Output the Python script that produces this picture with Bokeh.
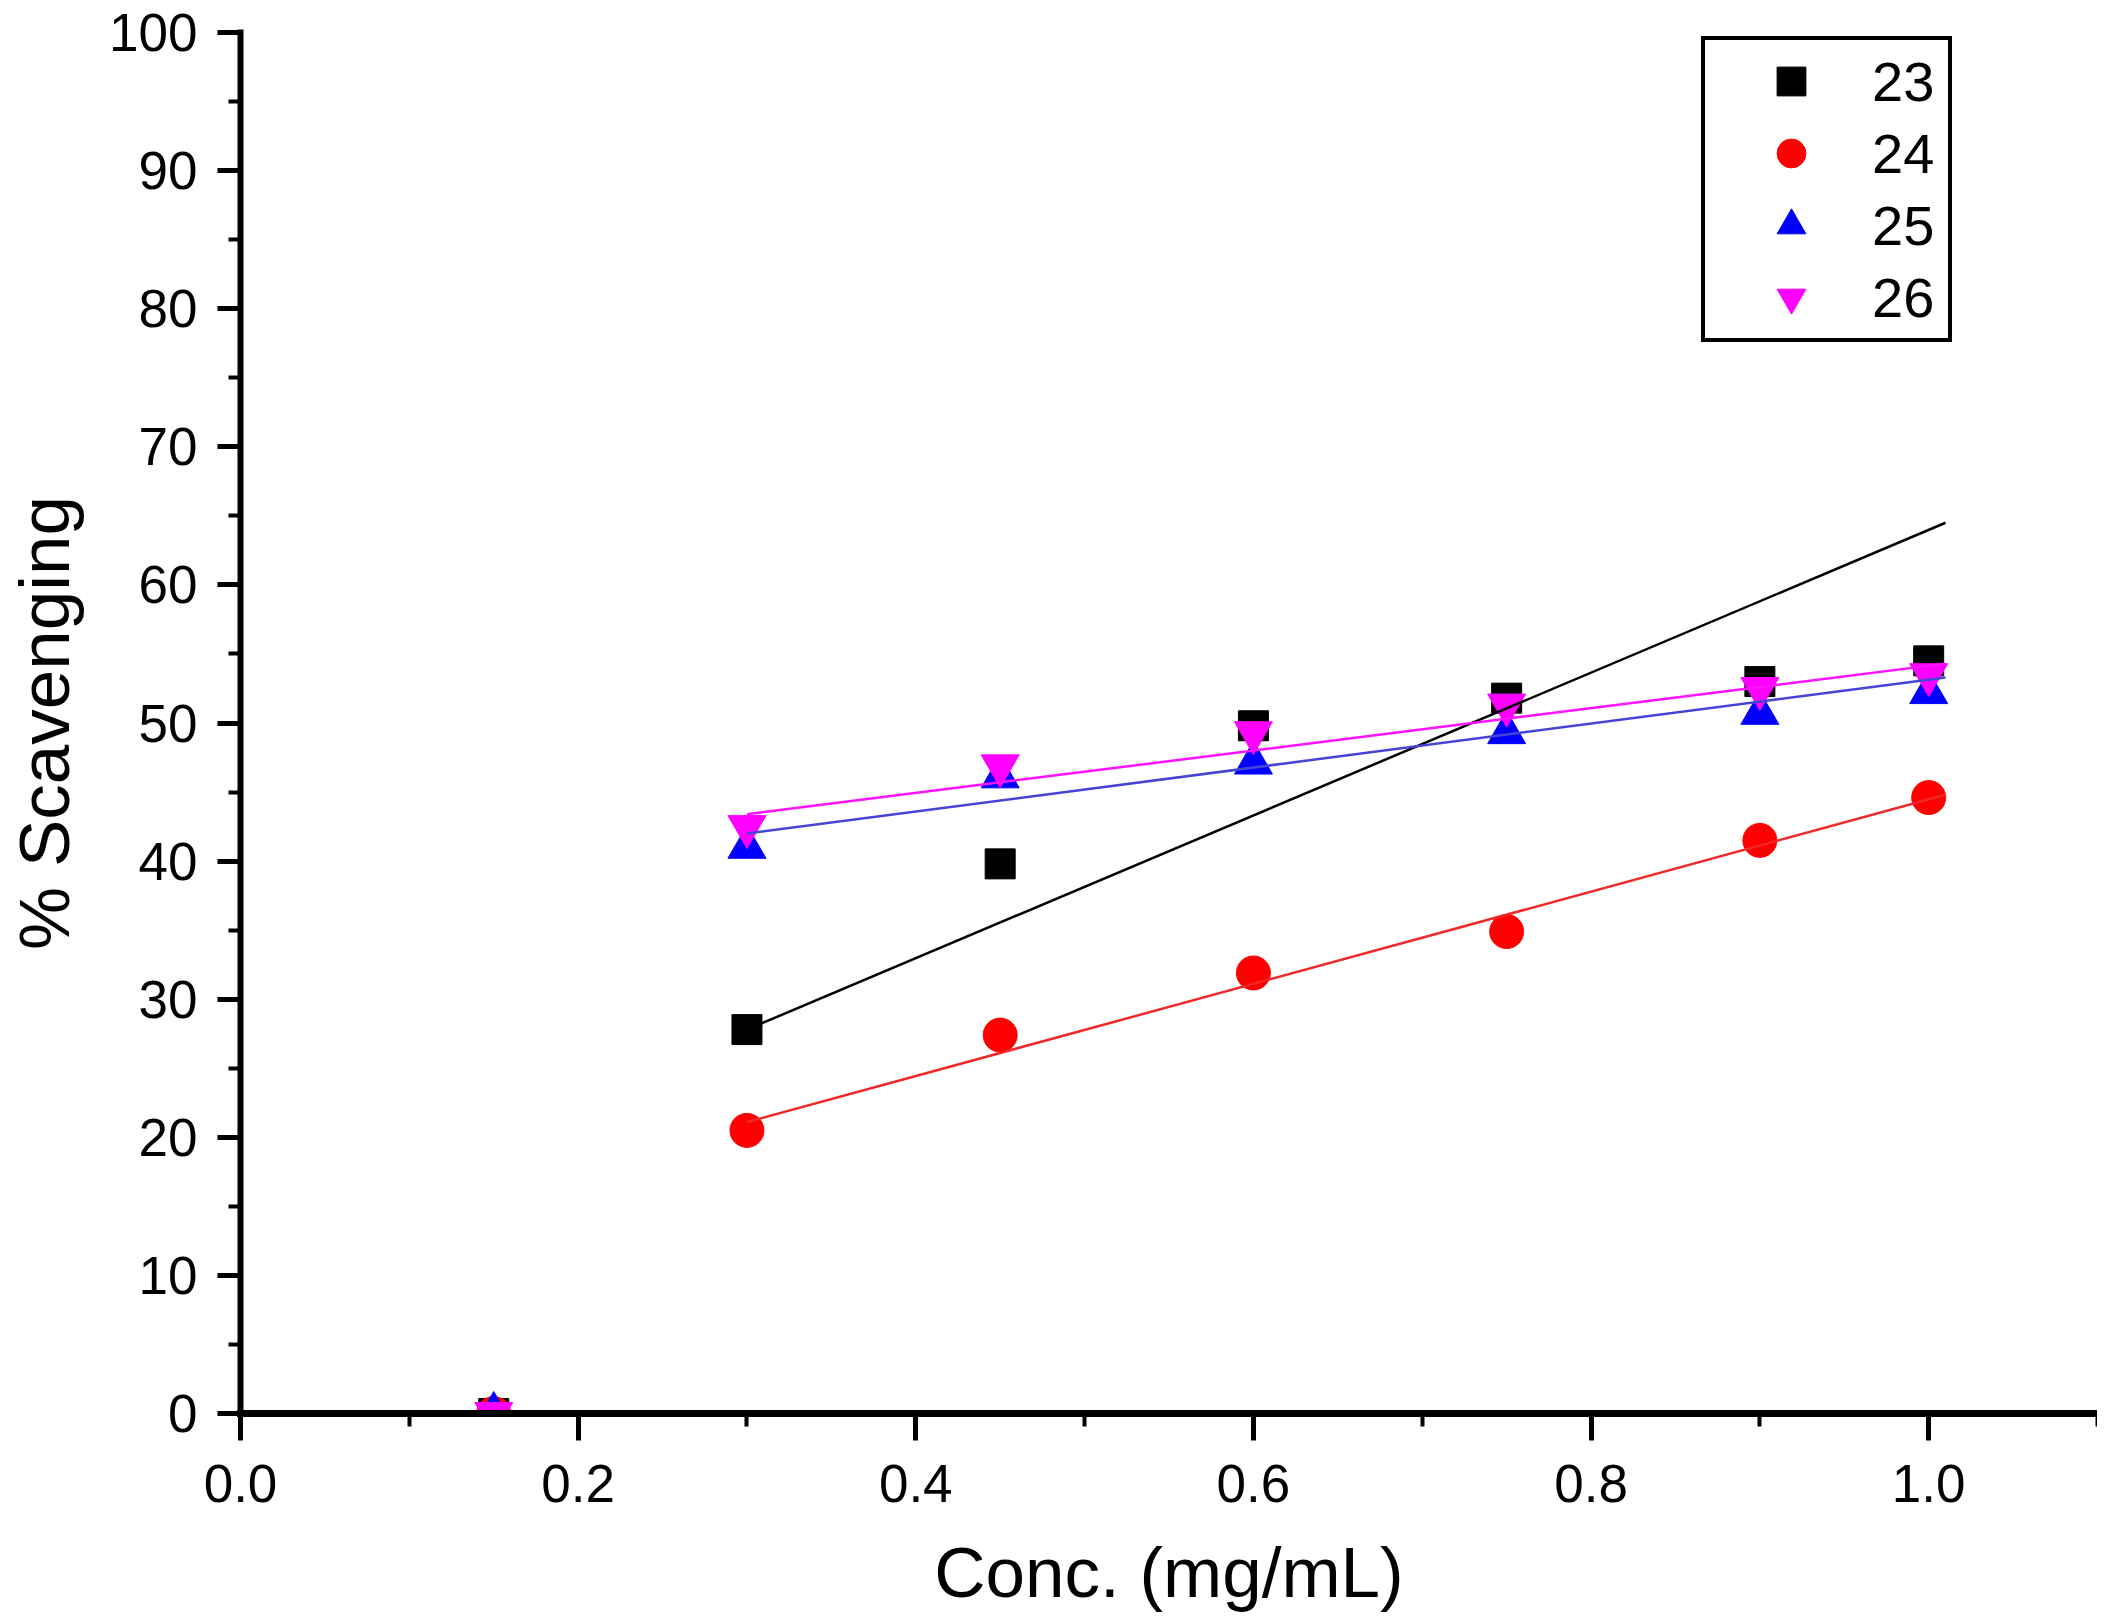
from bokeh.embed import file_html
from bokeh.models import FixedTicker, NumeralTickFormatter, Range1d
from bokeh.plotting import figure
from bokeh.resources import INLINE

# data
conc = [0.15, 0.30, 0.45, 0.60, 0.75, 0.90, 1.00]
s23 = [0.0, 27.8, 39.8, 49.8, 51.8, 53.0, 54.5]
s24 = [0.0, 20.5, 27.4, 31.9, 34.9, 41.5, 44.6]
s25 = [0.0, 41.0, 46.1, 47.1, 49.3, 50.7, 52.2]
s26 = [0.0, 42.5, 46.9, 49.3, 51.3, 52.5, 53.5]

# linear fits (end points of the drawn fit lines)
fit_x = [0.30, 1.01]
fit23 = [27.8, 64.5]
fit24 = [21.1, 44.8]
fit25 = [42.0, 53.3]
fit26 = [43.4, 54.3]

x_major = [0.0, 0.2, 0.4, 0.6, 0.8, 1.0]
x_minor = [0.1, 0.3, 0.5, 0.7, 0.9, 1.1]
y_major = [0, 10, 20, 30, 40, 50, 60, 70, 80, 90, 100]
y_minor = [5, 15, 25, 35, 45, 55, 65, 75, 85, 95]

FONT = "Liberation Sans"

p = figure(width=2097, height=1619, output_backend="svg", toolbar_location=None,
           x_range=Range1d(0, 1.1), y_range=Range1d(0, 100),
           min_border_left=240, min_border_right=0,
           min_border_top=32, min_border_bottom=206)
p.outline_line_color = None
p.grid.visible = False
p.background_fill_color = "white"
p.border_fill_color = "white"

# markers
p.scatter(conc, s23, marker="square", size=30, color="black", legend_label="23")
p.scatter(conc, s24, marker="circle", size=34, color="red", legend_label="24")
p.scatter(conc, s25, marker="triangle", size=38, color="blue", legend_label="25")
p.scatter(conc, s26, marker="inverted_triangle", size=38, color="magenta", legend_label="26")

# fit lines
p.line(fit_x, fit23, color="black", line_width=2.5)
p.line(fit_x, fit24, color="#f02828", line_width=2.5)
p.line(fit_x, fit25, color="#4545d5", line_width=2.5)
p.line(fit_x, fit26, color="#ff10ff", line_width=2.5)

# x axis
xa = p.xaxis[0]
xa.ticker = FixedTicker(ticks=x_major, minor_ticks=x_minor)
xa.formatter = NumeralTickFormatter(format="0.0")
xa.axis_line_width = 7
xa.axis_line_cap = "square"
xa.major_tick_line_width = 5
xa.minor_tick_line_width = 4
xa.major_tick_out = 27
xa.major_tick_in = 0
xa.minor_tick_out = 13
xa.minor_tick_in = 0
xa.major_label_text_font = FONT
xa.major_label_text_font_size = "53px"
xa.major_label_text_color = "black"
xa.major_label_standoff = 24
xa.axis_label = "Conc. (mg/mL)"
xa.axis_label_text_font = FONT
xa.axis_label_text_font_size = "71px"
xa.axis_label_text_font_style = "normal"
xa.axis_label_text_color = "black"
xa.axis_label_standoff = 28

# y axis
ya = p.yaxis[0]
ya.ticker = FixedTicker(ticks=y_major, minor_ticks=y_minor)
ya.axis_line_width = 6
ya.axis_line_cap = "square"
ya.major_tick_line_width = 5
ya.minor_tick_line_width = 4
ya.major_tick_out = 23
ya.major_tick_in = 0
ya.minor_tick_out = 12
ya.minor_tick_in = 0
ya.major_label_text_font = FONT
ya.major_label_text_font_size = "53px"
ya.major_label_text_color = "black"
ya.major_label_standoff = 20
ya.axis_label = "% Scavenging"
ya.axis_label_text_font = FONT
ya.axis_label_text_font_size = "71px"
ya.axis_label_text_font_style = "normal"
ya.axis_label_text_color = "black"
ya.axis_label_standoff = 22

# legend
lg = p.legend[0]
lg.location = (1461, 1071)
lg.glyph_width = 162
lg.glyph_height = 72
lg.spacing = 0
lg.padding = 5
lg.margin = 0
lg.label_standoff = 0
lg.label_width = 71
lg.label_text_font = FONT
lg.label_text_font_size = "56px"
lg.label_text_color = "black"
lg.border_line_color = "black"
lg.border_line_alpha = 1.0
lg.border_line_width = 4
lg.background_fill_color = "white"
lg.background_fill_alpha = 1.0

open("out.html", "w").write(file_html(p, INLINE))
